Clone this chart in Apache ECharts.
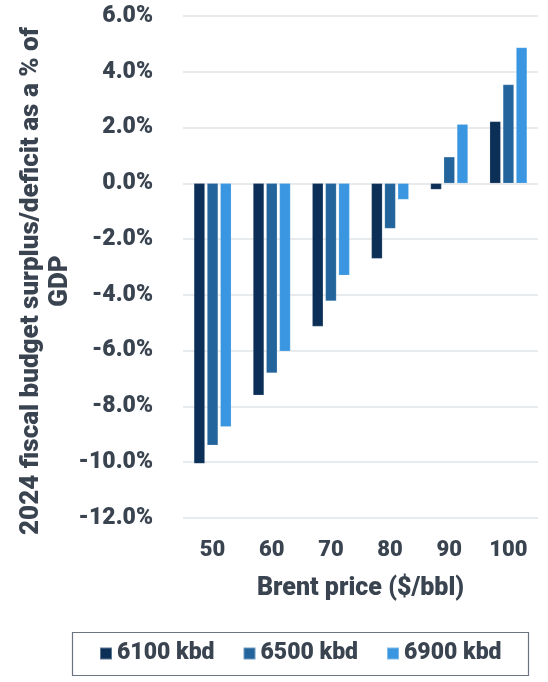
<!DOCTYPE html>
<html><head><meta charset="utf-8">
<script src="https://cdn.jsdelivr.net/npm/echarts@6/dist/echarts.min.js"></script>
<style>html,body{margin:0;padding:0;background:#fff}#c{width:548px;height:682px}</style>
</head><body><div id="c"></div>
<script>
const categories = ['50','60','70','80','90','100'];
const s6100 = [-10.05, -7.6, -5.13, -2.7, -0.22, 2.22];
const s6500 = [-9.39, -6.8, -4.22, -1.62, 0.95, 3.54];
const s6900 = [-8.73, -6.02, -3.3, -0.58, 2.12, 4.87];
const seriesNames = ['6100 kbd','6500 kbd','6900 kbd'];
const colors = ['#0b2f57','#22649b','#3a96e0'];
const yTitle = '2024 fiscal budget surplus/deficit as a % of\nGDP';
const xTitle = 'Brent price ($/bbl)';

const txt = '#3a4450';
const font = 'Roboto';
const fw = 900;
const chart = echarts.init(document.getElementById('c'));
const mk = (name, data, i) => ({
  name, type:'bar', data, barWidth: 11, barGap: '20%',
  itemStyle:{color:colors[i], borderColor:'rgba(255,255,255,0.35)', borderWidth:0.5}
});
chart.setOption({
  animation:false,
  textStyle:{fontFamily:font},
  grid:{left:183, right:10, top:16, bottom:164, containLabel:false},
  xAxis:{type:'category', data:categories,
    axisLine:{show:false}, axisTick:{show:false},
    axisLabel:{color:txt, fontSize:22, fontWeight:fw, margin:21, fontFamily:font},
    name:xTitle, nameLocation:'middle', nameGap:58,
    nameTextStyle:{color:txt, fontSize:25, fontWeight:fw, fontFamily:font}},
  yAxis:{type:'value', min:-12, max:6, interval:2,
    axisLine:{show:false}, axisTick:{show:false},
    splitLine:{lineStyle:{color:'#e1e4e8', width:1.5}},
    axisLabel:{color:txt, fontSize:23, fontWeight:fw, margin:30, fontFamily:font,
      formatter:v=>v.toFixed(1)+'%'}},
  graphic:[
    {type:'text', x:46, y:281, rotation:Math.PI/2,
     style:{text:yTitle, fill:txt, font:fw+' 26px Roboto', align:'center', verticalAlign:'middle', lineHeight:29}},
    {type:'rect', shape:{x:72.5, y:632.5, width:456, height:43},
     style:{fill:'none', stroke:'#6b7480', lineWidth:1.2}}
  ],
  legend:{top:642, left:99, data:seriesNames, itemWidth:12, itemHeight:12, itemGap:28,
    icon:'rect', padding:0,
    textStyle:{color:txt, fontSize:23, fontWeight:fw, fontFamily:font}},
  series:[mk(seriesNames[0], s6100, 0), mk(seriesNames[1], s6500, 1), mk(seriesNames[2], s6900, 2)]
});
</script></body></html>
